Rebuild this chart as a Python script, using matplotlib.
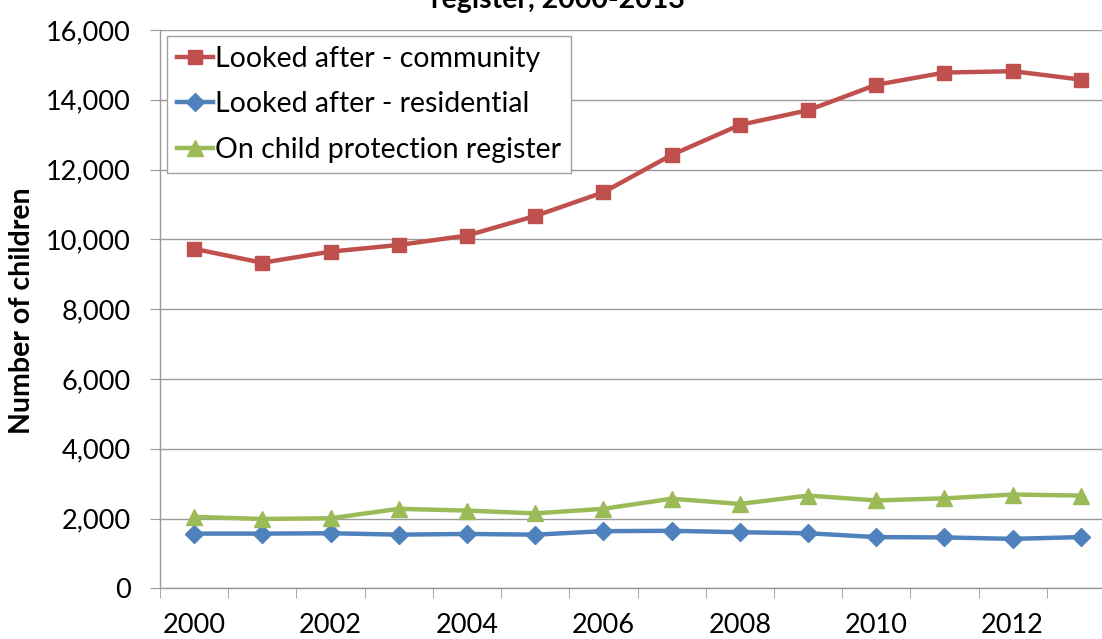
import numpy as np
import matplotlib
matplotlib.use("Agg")
import matplotlib.pyplot as plt
from matplotlib.ticker import FuncFormatter, FixedLocator

years = [2000, 2001, 2002, 2003, 2004, 2005, 2006,
         2007, 2008, 2009, 2010, 2011, 2012, 2013]
community = [9730, 9330, 9650, 9840, 10110, 10670, 11350,
             12420, 13280, 13700, 14430, 14780, 14820, 14580]
residential = [1570, 1570, 1580, 1540, 1560, 1540, 1640,
               1650, 1610, 1580, 1470, 1460, 1420, 1470]
protection = [2050, 1990, 2010, 2280, 2230, 2150, 2280,
              2570, 2420, 2660, 2520, 2580, 2690, 2660]
series_names = ["Looked after - community",
                "Looked after - residential",
                "On child protection register"]

plt.rcParams['font.family'] = ['Lato', 'DejaVu Sans']

W, H = 1102, 639
fig = plt.figure(figsize=(W / 100, H / 100), dpi=100)

# plot area runs past the right edge of the picture (reference is cropped)
x0, x1, y0, y1 = 160, 1115, 30, 588.4
ax = fig.add_axes([x0 / W, 1 - y1 / H, (x1 - x0) / W, (y1 - y0) / H])

x = np.arange(len(years))
ax.plot(x, community, color="#C0504D", lw=3.2, marker="s", ms=10.5,
        label=series_names[0], zorder=3)
ax.plot(x, residential, color="#4F81BD", lw=3.2, marker="D", ms=9.5,
        label=series_names[1], zorder=3)
ax.plot(x, protection, color="#9BBB59", lw=3.2, marker="^", ms=12,
        label=series_names[2], zorder=3)

ax.set_xlim(-0.5, len(years) - 0.5)
ax.set_ylim(0, 16000)
ax.set_yticks(np.arange(0, 16001, 2000))
ax.yaxis.set_major_formatter(FuncFormatter(lambda v, p: f"{int(v):,}"))

ax.set_xticks(x[::2])
ax.set_xticklabels([str(y) for y in years[::2]])
ax.xaxis.set_minor_locator(FixedLocator(np.arange(-0.5, len(years), 1.0)))

grid_c = "#9A9A9A"
ax.grid(axis="y", color=grid_c, lw=1, zorder=0)
for s in ["top", "right"]:
    ax.spines[s].set_visible(False)
for s in ["left", "bottom"]:
    ax.spines[s].set_color(grid_c)
    ax.spines[s].set_linewidth(1)

ax.tick_params(axis="y", which="major", length=7.2, color=grid_c,
               labelsize=19.5, pad=14)
ax.tick_params(axis="x", which="major", length=0, labelsize=19.5, pad=18)
ax.tick_params(axis="x", which="minor", length=7.2, color=grid_c)

leg = ax.legend(loc="upper left", bbox_to_anchor=(167 / W, 1 - 36 / H),
                bbox_transform=fig.transFigure, borderaxespad=0,
                fontsize=20.5, frameon=True, fancybox=False, framealpha=1,
                edgecolor="#A0A0A0", handlelength=1.25, handletextpad=0.08,
                labelspacing=0.68, borderpad=0.35)
leg.get_frame().set_linewidth(1)

fig.text(558 / W, 1 - 8 / H, "register, 2000-2013", ha="center",
         va="baseline", fontsize=20.5, fontweight="bold")
fig.text(22 / W, 1 - 311 / H, "Number of children", rotation=90,
         ha="center", va="center", fontsize=20.5, fontweight="bold")

fig.savefig("out.png", dpi=100)
